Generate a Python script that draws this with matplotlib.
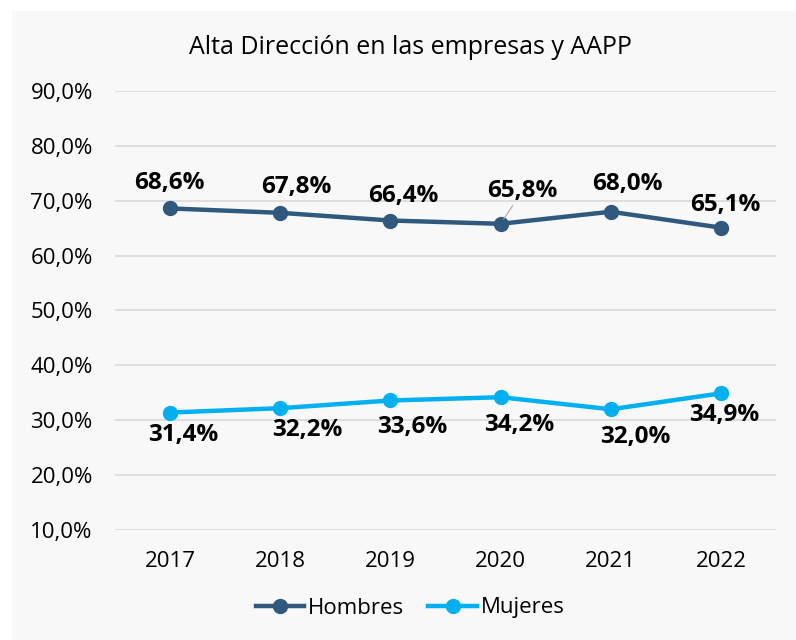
import matplotlib
matplotlib.use("Agg")
import matplotlib.pyplot as plt
from matplotlib.patches import Rectangle

years = ["2017", "2018", "2019", "2020", "2021", "2022"]
hombres = [68.6, 67.8, 66.4, 65.8, 68.0, 65.1]
mujeres = [31.4, 32.2, 33.6, 34.2, 32.0, 34.9]
yticks = [10, 20, 30, 40, 50, 60, 70, 80, 90]

# label offsets in pixels (dx, dy), y up
off_h = [(-1, 25), (16, 26), (13, 25), (22, 33), (17, 28), (4, 23)]
off_m = [(13, -22), (27, -22), (22, -27), (19, -28), (25, -28), (3, -22)]

c_h = "#2f5a7e"
c_m = "#00b0f0"

plt.rcParams["font.family"] = ["Open Sans", "DejaVu Sans"]

fig = plt.figure(figsize=(7.96, 6.4), dpi=100)
fig.patch.set_facecolor("white")
fig.patches.append(Rectangle((12 / 796, 0), 1, 1 - 11 / 640, transform=fig.transFigure,
                             facecolor="#f8f8f8", edgecolor="none", zorder=-5))

ax = fig.add_axes([115 / 796, 1 - 530 / 640, 661 / 796, 439 / 640])
ax.set_facecolor("none")
x = list(range(len(years)))

ax.plot(x, hombres, color=c_h, lw=3.2, marker="o", ms=10, label="Hombres", zorder=3)
ax.plot(x, mujeres, color=c_m, lw=3.2, marker="o", ms=10, label="Mujeres", zorder=3)

def fmt(v):
    return f"{v:.1f}%".replace(".", ",")

for i, v in enumerate(hombres):
    dx, dy = off_h[i]
    ap = None
    if i == 3:
        ap = dict(arrowstyle="-", color="#a6a6a6", lw=0.8, shrinkA=0, shrinkB=4)
    ax.annotate(fmt(v), (i, v), xytext=(dx, dy), textcoords="offset pixels",
                ha="center", va="center", fontsize=17.5, fontweight="bold",
                color="black", arrowprops=ap, zorder=4)
for i, v in enumerate(mujeres):
    dx, dy = off_m[i]
    ax.annotate(fmt(v), (i, v), xytext=(dx, dy), textcoords="offset pixels",
                ha="center", va="center", fontsize=17.5, fontweight="bold",
                color="black", zorder=4)

ax.set_xlim(-0.5, len(years) - 0.5)
ax.set_ylim(10, 90)
ax.set_yticks(yticks)
ax.set_yticklabels([fmt(t) for t in yticks])
ax.set_xticks(x)
ax.set_xticklabels(years)
ax.tick_params(length=0, labelsize=16, colors="black")
ax.tick_params(axis="y", pad=16)
ax.tick_params(axis="x", pad=15)
ax.grid(axis="y", color="#d9d9d9", lw=1.2)
ax.set_axisbelow(True)
for s in ax.spines.values():
    s.set_visible(False)

fig.text(410 / 796, 1 - 47 / 640, "Alta Dirección en las empresas y AAPP",
         ha="center", va="center", fontsize=18, color="black")

fig.legend(loc="center", bbox_to_anchor=(410 / 796, 1 - 608 / 640), ncol=2,
           frameon=False, fontsize=16, handlelength=2.2, handletextpad=0.15,
           columnspacing=1.1)

fig.savefig("out.png", dpi=100, facecolor=fig.get_facecolor())
